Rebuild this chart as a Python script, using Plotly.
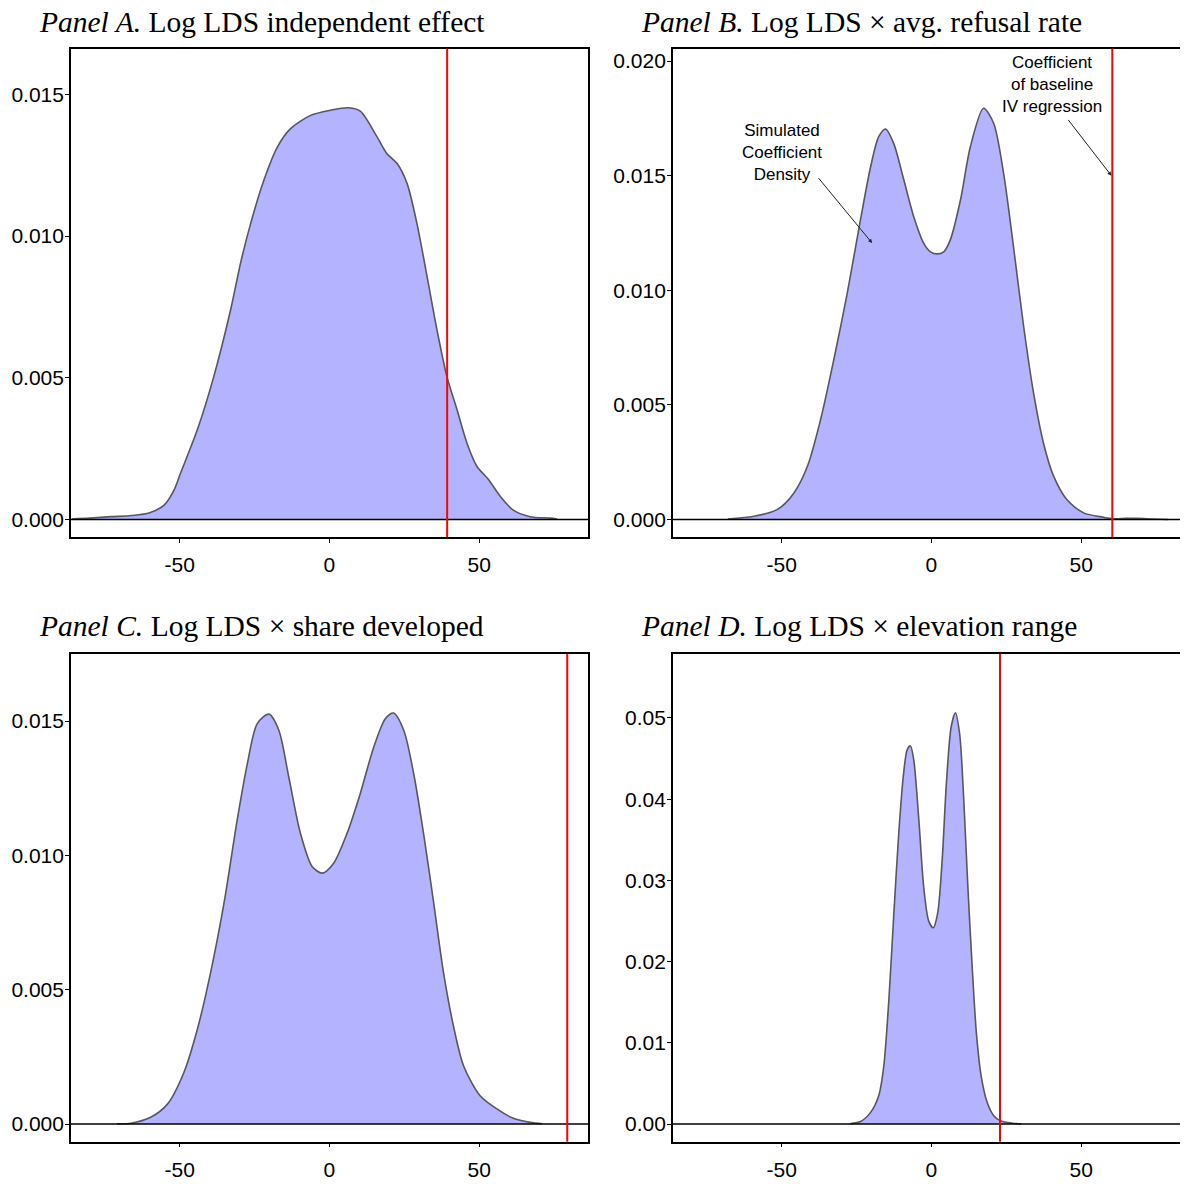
import plotly.graph_objects as go

# ---------------- data ----------------
a_x = [-86, -80, -73, -66, -60, -55.2, -51.9, -49.7, -44, -38.6, -33, -29.7, -26.3, -21.9, -17.4, -13, -6.3,
       0.3, 6.4, 10.3, 15.9, 19.2, 22.6, 25.9, 29.2, 32.6, 35.9, 39.2, 42.6, 45.9, 49.2, 53.1, 57, 61.4,
       67, 73.7, 76]
a_y = [0.00002, 0.00005, 0.0001, 0.00014, 0.00024, 0.00051, 0.00104, 0.00164, 0.0032, 0.00505, 0.0074,
       0.00904, 0.01045, 0.01197, 0.01314, 0.01379, 0.01426, 0.01444, 0.01453, 0.01441, 0.0135, 0.01291,
       0.01256, 0.01186, 0.01045, 0.00857, 0.00669, 0.00505, 0.00387, 0.0027, 0.00188, 0.00141, 0.00082,
       0.00033, 0.0001, 0.00005, 0.00002]

b_x = [-68, -59.2, -51.4, -45.9, -41.4, -37, -32.6, -28.1, -23.7, -20.3, -17.6, -15.3, -12.6, -9.2, -5.9,
       -2.6, -0.3, 1.9, 4.1, 6.3, 9.7, 13, 17.4, 20.8, 24.1, 27.4, 30.8, 34.1, 37.4, 40.8, 45.2, 50.8, 57.4,
       61, 65, 69, 74, 79]
b_y = [0.00002, 0.00014, 0.00044, 0.00116, 0.00232, 0.00436, 0.00697, 0.00988, 0.01307, 0.01539, 0.0167,
       0.01704, 0.01641, 0.01481, 0.01321, 0.01206, 0.01168, 0.01159, 0.01168, 0.0122, 0.01394, 0.01626,
       0.01794, 0.01728, 0.0151, 0.01191, 0.00842, 0.00552, 0.00334, 0.00189, 0.00087, 0.00029, 0.0001,
       0.00003, 0.00005, 0.00005, 0.00002, 0.0]

c_x = [-71, -66.3, -59.7, -54.1, -48.6, -44.1, -39.7, -35.2, -30.8, -27.4, -24.1, -20.2, -16.9, -13.6,
       -9.7, -5.8, -2.4, 1.4, 5.9, 10.3, 14.8, 18.7, 21.4, 24.8, 28.1, 31.4, 34.8, 38.1, 41.4, 44.8, 50.3,
       55.9, 61.4, 67, 71]
c_y = [0.00001, 0.00003, 0.00025, 0.00074, 0.00192, 0.00353, 0.00563, 0.00823, 0.01132, 0.01343, 0.01491,
       0.01526, 0.01466, 0.01293, 0.01083, 0.00959, 0.00934, 0.00971, 0.01083, 0.01231, 0.01404, 0.0151,
       0.0153, 0.01466, 0.01306, 0.01083, 0.00823, 0.00563, 0.00365, 0.00216, 0.00105, 0.00056, 0.00021,
       0.00006, 0.00001]

d_x = [-27, -23.7, -20.3, -17.6, -15.9, -14.2, -12.6, -10.9, -9.4, -8.1, -7, -5.9, -4.2, -2.6, -0.9, 0.6,
       2.1, 3.6, 5, 6.6, 8, 9.4, 10.8, 12.1, 13.6, 15, 16.6, 18.6, 20.8, 23, 27, 30]
d_y = [0.00005, 0.0003, 0.00143, 0.00348, 0.00716, 0.01536, 0.02559, 0.03583, 0.04279, 0.04607, 0.04656,
       0.04484, 0.03747, 0.02928, 0.02498, 0.02416, 0.02601, 0.03256, 0.04198, 0.04893, 0.05065, 0.04812,
       0.03993, 0.02969, 0.01945, 0.01126, 0.00593, 0.00267, 0.00102, 0.0004, 0.0001, 0.00002]

baseline_coef = [39.3, 60.4, 79.4, 22.9]

titles = [
    ("Panel A.", " Log LDS independent effect"),
    ("Panel B.", " Log LDS \u00d7 avg. refusal rate"),
    ("Panel C.", " Log LDS \u00d7 share developed"),
    ("Panel D.", " Log LDS \u00d7 elevation range"),
]

x_ticks = [-50, 0, 50]
x_tick_text = ["-50", "0", "50"]
y_ticks_abc = [0.0, 0.005, 0.010, 0.015, 0.020]
y_ticks_d = [0.0, 0.01, 0.02, 0.03, 0.04, 0.05]

# ---------------- layout geometry ----------------
PAGE_W, PAGE_H = 1188, 1184
OFFX, OFFY = 7, 8  # body margin of the html page (x slightly compensated)
W, H = PAGE_W - OFFX, PAGE_H - OFFY
FILL = "#B3B3FF"
LINE = "#585858"
SANS = "Liberation Sans, Arial, sans-serif"
SERIF = "Liberation Serif, Times New Roman, serif"

def px_x(p):
    return min(1.0, (p - OFFX) / W)

def px_y(p):
    return 1 - (p - OFFY) / H

RL = 673  # left frame of right-hand panels
panels = [
    dict(x=a_x, y=a_y, xdom=[px_x(70), px_x(588)], ydom=[px_y(537.3), px_y(48.5)],
         xr=[-86.33, 86.33], yr=[-0.000628, 0.01662], yt=y_ticks_abc[:4], fmt="{:.3f}"),
    dict(x=b_x, y=b_y, xdom=[px_x(RL), 1.0], ydom=[px_y(537.3), px_y(48.5)],
         xr=[-86.33, -86.33 + (PAGE_W - RL) / 3], yr=[-0.000777, 0.02055], yt=y_ticks_abc, fmt="{:.3f}"),
    dict(x=c_x, y=c_y, xdom=[px_x(70), px_x(588)], ydom=[px_y(1141.7), px_y(654)],
         xr=[-86.33, 86.33], yr=[-0.000659, 0.0175], yt=y_ticks_abc[:4], fmt="{:.3f}"),
    dict(x=d_x, y=d_y, xdom=[px_x(RL), 1.0], ydom=[px_y(1141.7), px_y(654)],
         xr=[-86.33, -86.33 + (PAGE_W - RL) / 3], yr=[-0.00218, 0.05788], yt=y_ticks_d, fmt="{:.2f}"),
]

fig = go.Figure()
shapes = []
annotations = []

for i, p in enumerate(panels):
    n = "" if i == 0 else str(i + 1)
    xa, ya = "x" + n, "y" + n
    fig.add_trace(go.Scatter(
        x=p["x"], y=p["y"], xaxis=xa, yaxis=ya, mode="lines",
        line=dict(color=LINE, width=1.6, shape="spline", smoothing=0.8),
        fill="tozeroy", fillcolor=FILL, hoverinfo="skip", showlegend=False))
    axis_common = dict(showline=True, linecolor="black", linewidth=1.5, mirror=True,
                       ticks="outside", ticklen=4, tickwidth=1, tickcolor="black",
                       showgrid=False, zeroline=False,
                       tickfont=dict(family=SANS, size=21, color="black"))
    fig.update_layout(**{
        "xaxis" + n: dict(domain=p["xdom"], range=p["xr"], tickvals=x_ticks,
                          ticktext=x_tick_text, ticklabelstandoff=4,
                          anchor=ya, **axis_common),
        "yaxis" + n: dict(domain=p["ydom"], range=p["yr"], tickvals=p["yt"],
                          ticktext=[p["fmt"].format(v) for v in p["yt"]],
                          ticklabelstandoff=-3,
                          anchor=xa, **axis_common),
    })
    # horizontal zero line
    shapes.append(dict(type="line", xref=xa + " domain", yref=ya, x0=0, x1=1, y0=0, y1=0,
                       line=dict(color="black", width=1.5), layer="above"))
    # red vertical line: baseline coefficient
    shapes.append(dict(type="line", xref=xa, yref=ya + " domain", x0=baseline_coef[i],
                       x1=baseline_coef[i], y0=0, y1=1, line=dict(color="red", width=2),
                       layer="above"))
    # panel title
    tx = 37 if i % 2 == 0 else 640
    ty = 22 if i < 2 else 626
    annotations.append(dict(
        xref="paper", yref="paper", x=px_x(tx), y=px_y(ty), xanchor="left", yanchor="middle",
        showarrow=False, borderpad=0, text="<i>" + titles[i][0] + "</i>" + titles[i][1],
        font=dict(family=SERIF, size=29.5, color="black")))

# annotations in panel B
annotations.append(dict(xref="x2", yref="y2", x=-50, y=0.01603, showarrow=False,
                        text="Simulated<br>Coefficient<br>Density", align="center",
                        xanchor="center", yanchor="middle",
                        font=dict(family=SANS, size=17, color="black")))
annotations.append(dict(xref="x2", yref="y2", x=40.3, y=0.0190, showarrow=False,
                        text="Coefficient<br>of baseline<br>IV regression", align="center",
                        xanchor="center", yanchor="middle",
                        font=dict(family=SANS, size=17, color="black")))
annotations.append(dict(xref="x2", yref="y2", axref="x2", ayref="y2",
                        x=-19.8, y=0.01206, ax=-38.1, ay=0.01496, text="",
                        showarrow=True, arrowhead=2, arrowsize=0.8, arrowwidth=1,
                        arrowcolor="#222222"))
annotations.append(dict(xref="x2", yref="y2", axref="x2", ayref="y2",
                        x=60.1, y=0.0150, ax=45.3, ay=0.0175, text="",
                        showarrow=True, arrowhead=2, arrowsize=0.8, arrowwidth=1,
                        arrowcolor="#222222"))

fig.update_layout(width=W, height=H, margin=dict(l=0, r=0, t=0, b=0),
                  paper_bgcolor="white", plot_bgcolor="white", showlegend=False,
                  shapes=shapes, annotations=annotations)

fig.write_html("out.html")
